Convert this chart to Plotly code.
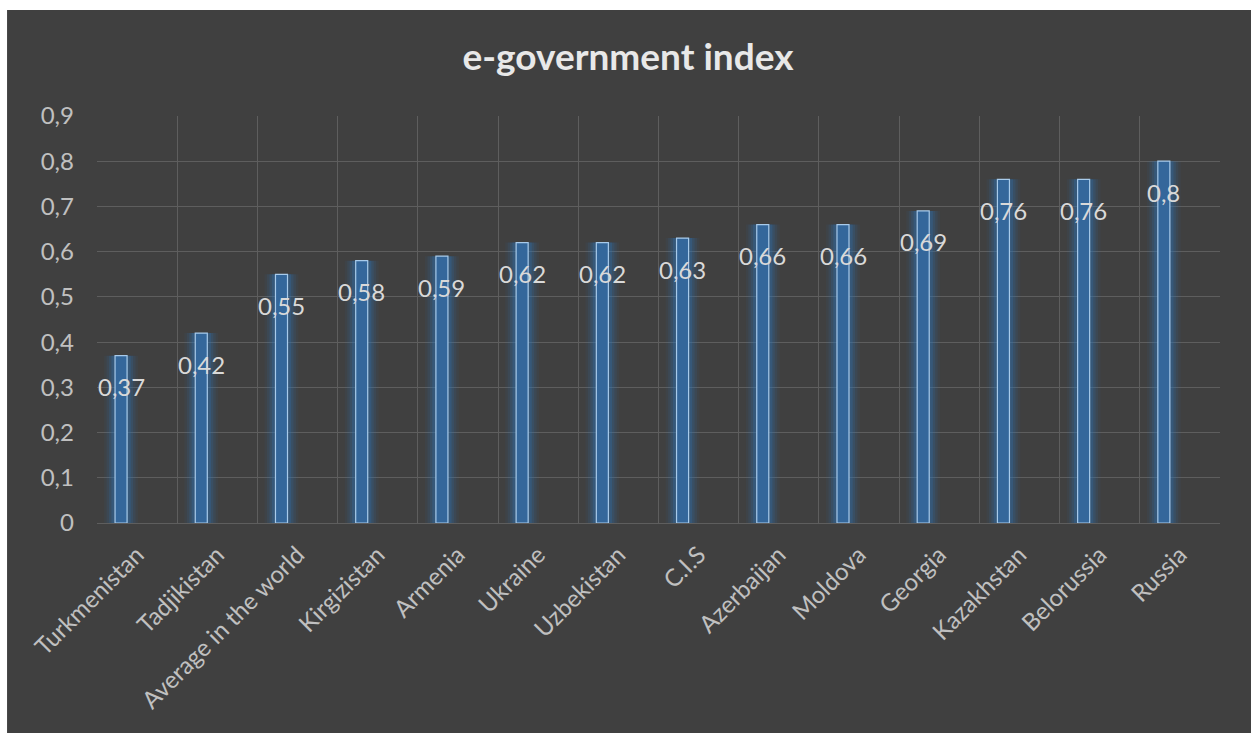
import plotly.graph_objects as go

categories = ["Turkmenistan", "Tadjikistan", "Average in the world", "Kirgizistan",
              "Armenia", "Ukraine", "Uzbekistan", "C.I.S", "Azerbaijan", "Moldova",
              "Georgia", "Kazakhstan", "Belorussia", "Russia"]
values = [0.37, 0.42, 0.55, 0.58, 0.59, 0.62, 0.62, 0.63, 0.66, 0.66, 0.69, 0.76, 0.76, 0.8]
labels = ["0,37", "0,42", "0,55", "0,58", "0,59", "0,62", "0,62", "0,63", "0,66", "0,66",
          "0,69", "0,76", "0,76", "0,8"]
y_ticks = [0, 0.1, 0.2, 0.3, 0.4, 0.5, 0.6, 0.7, 0.8, 0.9]
y_ticktext = ["0", "0,1", "0,2", "0,3", "0,4", "0,5", "0,6", "0,7", "0,8", "0,9"]

FONT = "Lato"
CENTER = -0.2
BAR_W = 0.15

fig = go.Figure()

# glow layers
for w, op in [(0.42, 0.07), (0.36, 0.11), (0.30, 0.16), (0.24, 0.26)]:
    fig.add_trace(go.Bar(
        x=categories, y=values, width=w, offset=CENTER - w / 2,
        marker=dict(color="#2e75b6", line=dict(width=0)), opacity=op,
        hoverinfo="skip", showlegend=False))

# main bars
fig.add_trace(go.Bar(
    x=categories, y=values, width=BAR_W, offset=CENTER - BAR_W / 2,
    marker=dict(color="#34679b", line=dict(color="#a8cbeb", width=1.2)),
    showlegend=False))

for c, v, t in zip(categories, values, labels):
    fig.add_annotation(x=c, y=v, text=t, showarrow=False, xshift=-16, yshift=-31,
                       yanchor="middle", xanchor="center",
                       font=dict(family=FONT, size=24, color="#d9d9d9"))

# dark panel behind chart
fig.add_shape(type="rect", xref="paper", yref="paper",
              x0=-0.0801, x1=1.0276, y0=-0.52, y1=1.2604,
              fillcolor="#404040", line=dict(width=0), layer="below")

fig.update_layout(
    width=1256, height=733,
    margin=dict(l=97, r=36, t=116, b=210),
    paper_bgcolor="#ffffff", plot_bgcolor="#404040",
    barmode="overlay",
    title=dict(text="<b>e-government index</b>", x=0.5, xref="container",
               y=1 - 57 / 733, yanchor="middle",
               font=dict(family=FONT, size=37, color="#e8e8e8")),
    xaxis=dict(type="category", tickson="boundaries", showgrid=True,
               gridcolor="#5e5e5e", gridwidth=1, tickangle=-45, ticks="",
               tickfont=dict(family=FONT, size=24, color="#c0c0c0"),
               showline=False, zeroline=False, range=[-0.5, 13.5],
               ticklabelstandoff=12),
    yaxis=dict(range=[0, 0.9], tickvals=y_ticks, ticktext=y_ticktext,
               showgrid=True, gridcolor="#5e5e5e", gridwidth=1,
               zeroline=True, zerolinecolor="#5e5e5e", zerolinewidth=1,
               tickfont=dict(family=FONT, size=24, color="#c0c0c0"),
               ticks="", ticklabelstandoff=22),
    font=dict(family=FONT),
)

fig.write_html("out.html")
